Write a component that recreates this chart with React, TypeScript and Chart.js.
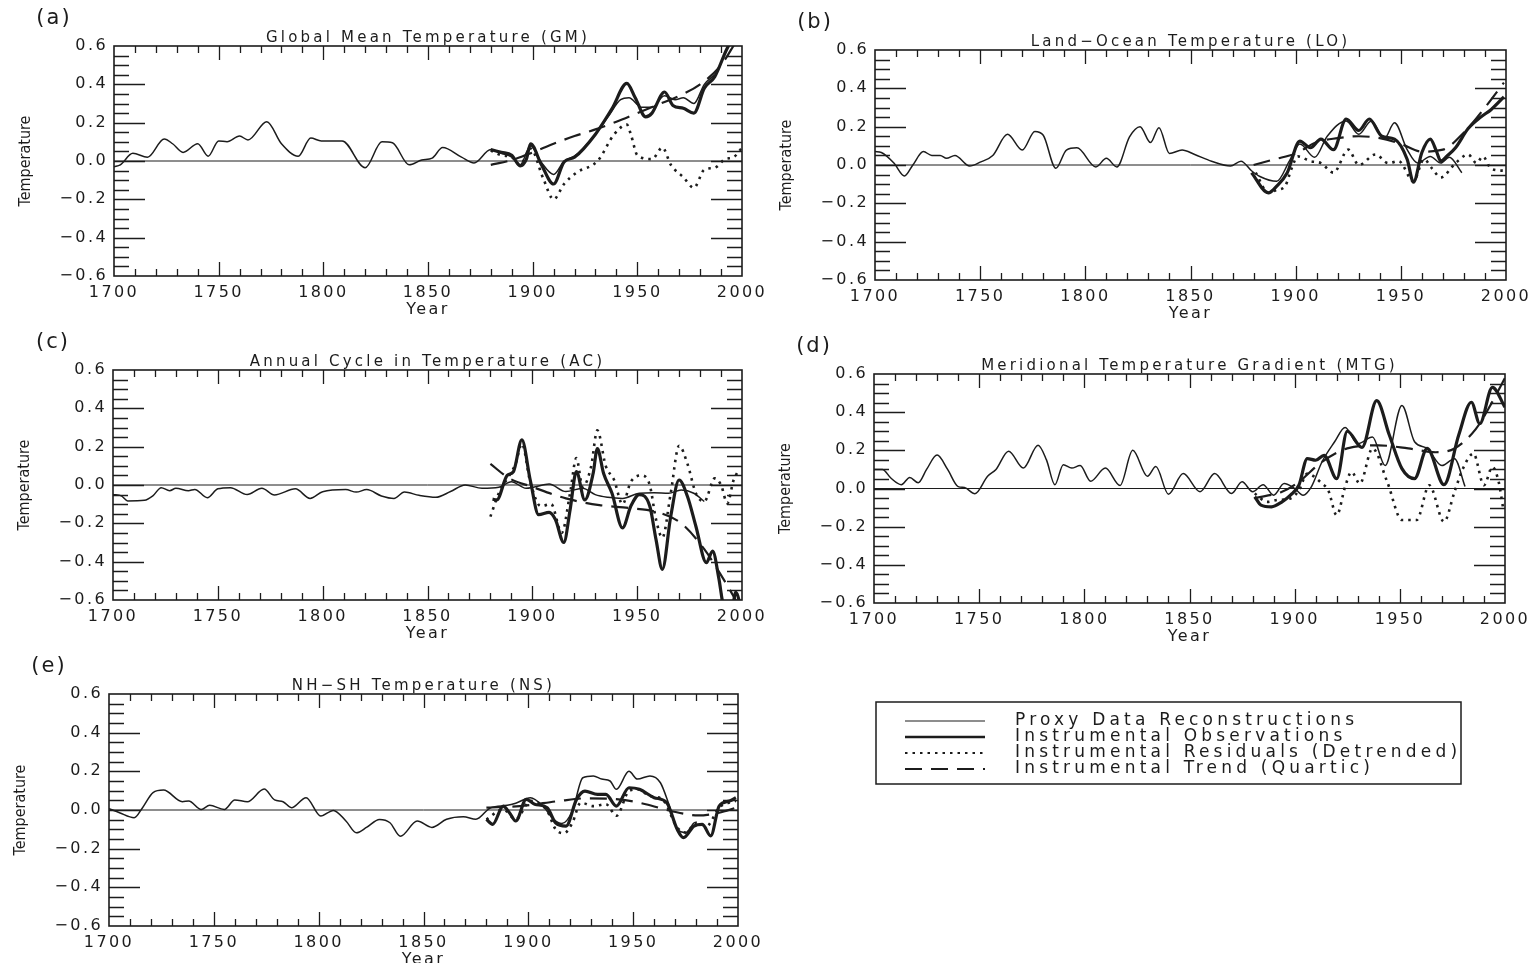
import React, { useEffect, useRef } from "react";
import { Chart, registerables } from "chart.js";
Chart.register(...registerables);

// ---------------- data ----------------
// (a) Global Mean
const gmProxyYears = [1700,1703,1709,1716,1724,1728,1733,1740,1745,1750,1754,1760,1764,1773,1780,1788,1794,1799,1809,1820,1828,1833,1841,1847,1852,1857,1866,1872,1880,1885,1890,1894,1899,1904,1910,1915,1920,1930,1936,1942,1946,1952,1957,1963,1968,1972,1977,1982,1987];
const gmProxyVals = [-0.03,-0.02,0.04,0.02,0.115,0.09,0.045,0.09,0.025,0.105,0.1,0.13,0.11,0.205,0.09,0.025,0.12,0.105,0.105,-0.035,0.1,0.095,-0.02,0.005,0.015,0.07,0.02,-0.01,0.06,0.04,0.02,-0.02,0.08,-0.005,-0.07,0.0,0.025,0.14,0.23,0.32,0.33,0.28,0.28,0.34,0.32,0.33,0.3,0.4,0.45];
const gmObsYears = [1880,1885,1890,1894,1897,1899,1904,1910,1915,1920,1930,1938,1945,1949,1954,1957,1963,1967,1972,1977,1982,1987,1993,1997];
const gmObsVals = [0.06,0.045,0.03,-0.025,0.01,0.09,-0.015,-0.12,-0.005,0.02,0.14,0.275,0.405,0.33,0.23,0.25,0.36,0.29,0.275,0.25,0.38,0.44,0.59,0.66];
const gmTrendYears = [1880,1890,1900,1910,1920,1930,1940,1950,1960,1970,1980,1990,1997];
const gmTrendVals = [-0.02,0.005,0.045,0.09,0.13,0.165,0.205,0.25,0.295,0.34,0.4,0.5,0.62];
const gmResidYears = [1880,1885,1890,1894,1899,1905,1910,1915,1921,1931,1939,1945,1947,1950,1957,1962,1966,1972,1977,1982,1987,1992,1996,2000];
const gmResidVals = [0.055,0.03,0.02,-0.02,0.065,-0.09,-0.2,-0.12,-0.06,0.0,0.14,0.19,0.135,0.03,0.01,0.07,-0.02,-0.085,-0.14,-0.045,-0.035,0.01,0.02,0.07];

// (b) Land-Ocean
const loProxyYears = [1700,1703,1709,1714,1718,1723,1727,1731,1734,1738,1745,1750,1756,1763,1770,1776,1780,1786,1791,1796,1805,1810,1815,1821,1826,1831,1835,1840,1846,1852,1860,1869,1874,1879,1883,1891,1897,1902,1909,1915,1924,1930,1936,1942,1947,1953,1958,1964,1969,1973,1979];
const loProxyVals = [0.07,0.065,0.01,-0.057,0.0,0.07,0.05,0.05,0.035,0.05,-0.005,0.015,0.05,0.16,0.078,0.175,0.155,-0.017,0.078,0.09,-0.01,0.035,-0.01,0.147,0.2,0.117,0.195,0.06,0.078,0.055,0.02,-0.005,0.02,-0.03,-0.06,-0.085,0.02,0.11,0.04,0.15,0.23,0.16,0.23,0.135,0.22,0.08,0.01,0.045,0.01,0.04,-0.04];
const loObsYears = [1879,1887,1891,1896,1902,1907,1912,1918,1924,1930,1935,1941,1947,1953,1956,1960,1964,1967,1969,1972,1976,1982,1988,1993,1999];
const loObsVals = [-0.04,-0.145,-0.11,-0.04,0.125,0.09,0.135,0.08,0.24,0.18,0.24,0.15,0.135,0.03,-0.09,0.065,0.135,0.07,0.02,0.047,0.09,0.19,0.25,0.29,0.355];
const loTrendYears = [1880,1890,1900,1910,1920,1930,1940,1950,1960,1970,1980,1990,1999];
const loTrendVals = [0.0,0.03,0.06,0.12,0.14,0.15,0.14,0.11,0.07,0.08,0.17,0.3,0.43];
const loResidYears = [1881,1887,1891,1895,1898,1901,1907,1912,1918,1925,1930,1938,1944,1949,1956,1961,1965,1969,1976,1982,1986,1989,1993,1999];
const loResidVals = [-0.04,-0.145,-0.13,-0.11,-0.02,0.045,0.02,0.01,-0.04,0.08,0.0,0.055,0.01,0.02,-0.085,0.03,-0.02,-0.065,0.01,0.055,0.01,0.045,-0.02,-0.03];

// (c) Annual Cycle
const acProxyYears = [1700,1704,1707,1715,1719,1723,1727,1730,1736,1739,1745,1750,1756,1764,1771,1777,1787,1794,1800,1811,1816,1821,1828,1834,1839,1846,1854,1861,1868,1876,1884,1890,1897,1901,1908,1916,1924,1930,1936,1943,1951,1958,1965,1971,1977,1982];
const acProxyVals = [-0.05,-0.057,-0.083,-0.08,-0.057,-0.014,-0.03,-0.017,-0.03,-0.023,-0.066,-0.02,-0.014,-0.05,-0.017,-0.052,-0.02,-0.07,-0.035,-0.024,-0.037,-0.024,-0.057,-0.07,-0.037,-0.054,-0.064,-0.034,0.0,-0.017,-0.012,0.017,-0.017,-0.01,0.005,-0.034,-0.017,-0.05,-0.064,-0.07,-0.043,-0.04,-0.043,-0.026,-0.043,-0.086];
const acObsYears = [1881,1883,1888,1891,1895,1899,1903,1908,1911,1915,1918,1921,1925,1929,1931,1934,1938,1943,1947,1951,1956,1959,1962,1966,1970,1974,1978,1983,1986,1989,1991,1995,1997,2000];
const acObsVals = [-0.074,-0.078,0.05,0.07,0.235,0.026,-0.155,-0.143,-0.18,-0.3,-0.13,0.07,-0.078,0.06,0.19,0.06,-0.043,-0.224,-0.11,-0.05,-0.11,-0.285,-0.44,-0.164,0.026,-0.06,-0.215,-0.405,-0.345,-0.49,-0.62,-0.66,-0.56,-0.66];
const acTrendYears = [1880,1889,1900,1916,1932,1946,1959,1971,1982,1990,1997,2000];
const acTrendVals = [0.11,0.035,-0.01,-0.07,-0.105,-0.12,-0.14,-0.2,-0.335,-0.47,-0.6,-0.66];
const acResidYears = [1880,1884,1889,1892,1895,1899,1904,1909,1914,1918,1921,1924,1928,1931,1935,1939,1943,1947,1952,1956,1959,1962,1966,1970,1974,1978,1982,1987,1990,1993,1996,1998];
const acResidVals = [-0.165,-0.043,0.05,0.11,0.215,0.017,-0.11,-0.1,-0.25,-0.043,0.14,-0.01,0.095,0.285,0.1,0.026,-0.1,0.017,0.05,0.0,-0.18,-0.275,-0.043,0.205,0.11,-0.043,-0.086,0.035,0.0,-0.095,0.026,0.07];

// (d) Meridional Gradient
const mtgProxyYears = [1700,1704,1708,1713,1717,1721,1725,1730,1735,1740,1743,1748,1754,1758,1764,1771,1778,1782,1786,1790,1794,1798,1803,1810,1817,1823,1830,1834,1840,1847,1855,1862,1870,1875,1880,1885,1890,1895,1900,1904,1908,1913,1919,1924,1930,1937,1943,1951,1957,1963,1970,1976,1981];
const mtgProxyVals = [0.1,0.1,0.055,0.02,0.058,0.03,0.1,0.175,0.1,0.01,0.005,-0.027,0.064,0.1,0.195,0.107,0.227,0.15,0.02,0.125,0.107,0.12,0.038,0.107,0.016,0.2,0.064,0.115,-0.03,0.078,-0.017,0.078,-0.026,0.035,-0.017,0.02,-0.035,0.026,0.0,-0.035,0.01,0.14,0.245,0.32,0.235,0.27,0.12,0.435,0.245,0.21,0.12,0.156,0.01];
const mtgObsYears = [1881,1884,1889,1894,1898,1902,1906,1910,1914,1920,1925,1932,1939,1945,1951,1957,1963,1971,1978,1984,1988,1994,2000];
const mtgObsVals = [-0.043,-0.087,-0.096,-0.07,-0.035,0.017,0.157,0.148,0.174,0.052,0.3,0.215,0.46,0.28,0.104,0.052,0.21,0.02,0.28,0.452,0.34,0.53,0.426];
const mtgTrendYears = [1881,1894,1902,1913,1925,1940,1954,1967,1976,1986,1993,2000];
const mtgTrendVals = [-0.05,-0.017,0.035,0.14,0.21,0.226,0.21,0.19,0.21,0.31,0.435,0.58];
const mtgResidYears = [1881,1887,1892,1898,1902,1906,1913,1916,1920,1924,1927,1931,1937,1944,1951,1958,1964,1971,1976,1980,1985,1990,1994,1997,1999];
const mtgResidVals = [-0.026,-0.07,-0.06,-0.052,-0.01,0.078,0.026,-0.01,-0.14,0.01,0.087,0.026,0.21,0.035,-0.165,-0.165,0.017,-0.174,-0.017,0.104,0.183,0.017,0.113,0.035,-0.096];

// (e) NH-SH
const nsProxyYears = [1700,1705,1712,1716,1721,1726,1735,1738,1744,1748,1755,1760,1766,1774,1779,1783,1787,1794,1801,1807,1813,1818,1823,1829,1834,1839,1847,1854,1861,1869,1875,1882,1890,1894,1901,1907,1912,1916,1921,1926,1931,1935,1939,1942,1948,1952,1958,1963,1967,1971,1975,1979];
const nsProxyVals = [0.007,-0.014,-0.04,0.012,0.09,0.103,0.043,0.047,0.003,0.024,0.003,0.052,0.043,0.108,0.052,0.043,0.012,0.064,-0.031,-0.002,-0.057,-0.118,-0.089,-0.049,-0.066,-0.136,-0.057,-0.09,-0.048,-0.035,-0.048,0.012,0.024,0.035,0.064,0.02,-0.048,-0.07,-0.005,0.167,0.176,0.16,0.15,0.107,0.2,0.16,0.176,0.141,0.03,-0.1,-0.117,-0.066];
const nsObsYears = [1880,1883,1888,1891,1894,1899,1903,1909,1913,1918,1923,1927,1933,1937,1942,1948,1953,1960,1966,1971,1974,1979,1983,1987,1991,1996,1999];
const nsObsVals = [-0.048,-0.074,0.02,-0.014,-0.057,0.055,0.03,0.012,-0.066,-0.083,0.055,0.098,0.081,0.081,0.02,0.115,0.107,0.064,0.038,-0.1,-0.143,-0.083,-0.074,-0.134,0.02,0.047,0.064];
const nsTrendYears = [1880,1896,1915,1927,1943,1956,1968,1981,1991,1999];
const nsTrendVals = [0.012,0.02,0.047,0.06,0.055,0.03,-0.005,-0.028,-0.014,0.012];
const nsResidYears = [1880,1888,1894,1901,1909,1913,1917,1921,1925,1931,1937,1942,1948,1952,1958,1964,1971,1975,1980,1985,1991,1999];
const nsResidVals = [-0.048,0.003,-0.048,0.047,-0.005,-0.1,-0.12,-0.066,0.038,0.02,0.03,-0.03,0.098,0.107,0.072,0.055,-0.09,-0.117,-0.066,-0.083,0.012,0.047];

const legendLabels = [
  "Proxy Data Reconstructions",
  "Instrumental Observations",
  "Instrumental Residuals (Detrended)",
  "Instrumental Trend (Quartic)",
];

const X_MIN = 1700, X_MAX = 2000, X_STEP = 50;
const Y_MIN = -0.6, Y_MAX = 0.6, Y_STEP = 0.2;

// ---------------- styling / layout ----------------
const INK = "#1c1c1c";
const FONT = "'DejaVu Sans', Verdana, sans-serif";
const NARROW = "'Liberation Sans Narrow', 'DejaVu Sans Condensed', 'Arial Narrow', sans-serif";
const SPACING = "2.4px";

const AX_W = 100;
const TOP_PAD = 45;
const X_H = 42;

const PANELS = [
  { id: "a", tag: "(a)", title: "Global Mean Temperature (GM)", box: { L: 114, T: 46, R: 742, B: 276 },
    proxy: [gmProxyYears, gmProxyVals], obs: [gmObsYears, gmObsVals], resid: [gmResidYears, gmResidVals], trend: [gmTrendYears, gmTrendVals] },
  { id: "b", tag: "(b)", title: "Land\u2212Ocean Temperature (LO)", box: { L: 875, T: 50, R: 1506, B: 280 },
    proxy: [loProxyYears, loProxyVals], obs: [loObsYears, loObsVals], resid: [loResidYears, loResidVals], trend: [loTrendYears, loTrendVals] },
  { id: "c", tag: "(c)", title: "Annual Cycle in Temperature (AC)", box: { L: 113, T: 370, R: 742, B: 600 },
    proxy: [acProxyYears, acProxyVals], obs: [acObsYears, acObsVals], resid: [acResidYears, acResidVals], trend: [acTrendYears, acTrendVals] },
  { id: "d", tag: "(d)", title: "Meridional Temperature Gradient (MTG)", box: { L: 874, T: 374, R: 1505, B: 603 },
    proxy: [mtgProxyYears, mtgProxyVals], obs: [mtgObsYears, mtgObsVals], resid: [mtgResidYears, mtgResidVals], trend: [mtgTrendYears, mtgTrendVals] },
  { id: "e", tag: "(e)", title: "NH\u2212SH Temperature (NS)", box: { L: 109, T: 694, R: 738, B: 926 }, legend: true,
    proxy: [nsProxyYears, nsProxyVals], obs: [nsObsYears, nsObsVals], resid: [nsResidYears, nsResidVals], trend: [nsTrendYears, nsTrendVals] },
];

const LEGEND_BOX = { x0: 876, y0: 702, x1: 1461, y1: 784 };

const STYLES = {
  proxy: { borderWidth: 1.5, borderDash: [] as number[] },
  obs: { borderWidth: 3.2, borderDash: [] as number[] },
  resid: { borderWidth: 2.6, borderDash: [2.5, 5] },
  trend: { borderWidth: 2.2, borderDash: [17, 9] },
};

function pts(xs: number[], ys: number[]) {
  return xs.map((x, i) => ({ x, y: ys[i] }));
}

function makeDecor(p: any, offX: number, offY: number) {
  return {
    id: "decor",
    beforeDraw(chart: any) {
      chart.ctx.letterSpacing = SPACING;
    },
    beforeDatasetsDraw(chart: any) {
      const { ctx, chartArea: a, scales } = chart;
      const y0 = scales.y.getPixelForValue(0);
      ctx.save();
      ctx.strokeStyle = INK;
      ctx.lineWidth = 1;
      ctx.beginPath();
      ctx.moveTo(a.left, y0);
      ctx.lineTo(a.right, y0);
      ctx.stroke();
      ctx.restore();
    },
    afterDatasetsDraw(chart: any) {
      const { ctx, chartArea: a, scales } = chart;
      ctx.save();
      ctx.strokeStyle = INK;
      ctx.fillStyle = INK;
      // y ticks (both sides, inward)
      ctx.lineWidth = 1.3;
      ctx.beginPath();
      for (let k = -11; k <= 11; k++) {
        const py = Math.round(scales.y.getPixelForValue(k * 0.05)) + 0.5;
        const len = k % 4 === 0 ? 31 : 15;
        ctx.moveTo(a.left, py);
        ctx.lineTo(a.left + len, py);
        ctx.moveTo(a.right, py);
        ctx.lineTo(a.right - len, py);
      }
      // x ticks (top & bottom, inward)
      for (let yr = X_MIN + 10; yr < X_MAX; yr += 10) {
        const px = Math.round(scales.x.getPixelForValue(yr)) + 0.5;
        const len = yr % 50 === 0 ? 14 : 7;
        ctx.moveTo(px, a.bottom);
        ctx.lineTo(px, a.bottom - len);
        ctx.moveTo(px, a.top);
        ctx.lineTo(px, a.top + len);
      }
      ctx.stroke();
      // frame
      ctx.lineWidth = 1.6;
      ctx.strokeRect(a.left, a.top, a.right - a.left, a.bottom - a.top);

      // panel title
      ctx.letterSpacing = "3.2px";
      ctx.font = `15px ${FONT}`;
      ctx.textAlign = "center";
      ctx.textBaseline = "middle";
      ctx.fillText(p.title, (a.left + a.right) / 2, a.top - 8);
      // panel tag
      ctx.letterSpacing = "2px";
      ctx.font = `21px ${FONT}`;
      ctx.fillText(p.tag, a.left - 60, a.top - 27);
      // y axis title
      ctx.letterSpacing = "0px";
      ctx.font = `16px ${NARROW}`;
      ctx.save();
      ctx.translate(a.left - 88, (a.top + a.bottom) / 2);
      ctx.rotate(-Math.PI / 2);
      ctx.fillText("Temperature", 0, 0);
      ctx.restore();

      if (p.legend) {
        const bx0 = LEGEND_BOX.x0 - offX, by0 = LEGEND_BOX.y0 - offY;
        const bx1 = LEGEND_BOX.x1 - offX, by1 = LEGEND_BOX.y1 - offY;
        ctx.lineWidth = 1.5;
        ctx.strokeRect(bx0, by0, bx1 - bx0, by1 - by0);
        const keys = ["proxy", "obs", "resid", "trend"] as const;
        ctx.font = `17px ${FONT}`;
        ctx.letterSpacing = "4.2px";
        ctx.textAlign = "left";
        keys.forEach((k, i) => {
          const yy = by0 + 19 + i * 16;
          const st = (STYLES as any)[k];
          ctx.save();
          ctx.lineWidth = st.borderWidth * 0.8;
          ctx.setLineDash(st.borderDash);
          ctx.beginPath();
          ctx.moveTo(bx0 + 29, yy);
          ctx.lineTo(bx0 + 109, yy);
          ctx.stroke();
          ctx.restore();
          ctx.fillText(legendLabels[i], bx0 + 139, yy);
        });
      }
      ctx.restore();
      ctx.letterSpacing = SPACING;
    },
  };
}

function PanelChart({ p }: { p: any }) {
  const ref = useRef<HTMLCanvasElement>(null);
  const rightPad = p.legend ? 1530 - p.box.R : 40;
  const left = p.box.L - AX_W;
  const top = p.box.T - TOP_PAD;
  const width = p.box.R - left + rightPad;
  const height = p.box.B - top + X_H;

  useEffect(() => {
    if (!ref.current) return;
    const mk = (key: string, src: number[][]) => ({
      label: key,
      data: pts(src[0], src[1]),
      borderColor: INK,
      backgroundColor: INK,
      borderWidth: (STYLES as any)[key].borderWidth,
      borderDash: (STYLES as any)[key].borderDash,
      pointRadius: 0,
      fill: false,
      cubicInterpolationMode: "monotone" as const,
      borderCapStyle: "butt" as const,
      borderJoinStyle: "round" as const,
    });
    const chart = new Chart(ref.current, {
      type: "line",
      data: {
        datasets: [mk("trend", p.trend), mk("resid", p.resid), mk("proxy", p.proxy), mk("obs", p.obs)],
      },
      options: {
        responsive: false,
        animation: false,
        devicePixelRatio: 1,
        layout: { padding: { left: 0, top: TOP_PAD, right: rightPad, bottom: 0 } },
        plugins: { legend: { display: false }, tooltip: { enabled: false }, title: { display: false } },
        scales: {
          x: {
            type: "linear",
            min: X_MIN,
            max: X_MAX,
            grid: { display: false, drawTicks: false, tickLength: 0 },
            border: { display: false },
            ticks: {
              stepSize: X_STEP,
              autoSkip: false,
              maxRotation: 0,
              padding: 7,
              color: INK,
              font: { family: FONT, size: 16 },
              callback: (v: any) => String(v),
            },
            title: { display: true, text: "Year", color: INK, font: { family: FONT, size: 16, lineHeight: 1 }, padding: { top: 0, bottom: 0 } },
            afterFit: (s: any) => { s.height = X_H; },
          },
          y: {
            type: "linear",
            min: Y_MIN,
            max: Y_MAX,
            grid: { display: false, drawTicks: false, tickLength: 0 },
            border: { display: false },
            ticks: {
              stepSize: Y_STEP,
              padding: 6,
              color: INK,
              font: { family: FONT, size: 16 },
              callback: (v: any) => {
                const n = Math.abs(v) < 1e-9 ? 0 : Number(v);
                const s = Math.abs(n).toFixed(1);
                return n < 0 ? "\u2212" + s : s;
              },
            },
            afterFit: (s: any) => { s.width = AX_W; },
          },
        },
      } as any,
      plugins: [makeDecor(p, left, top)],
    });
    return () => chart.destroy();
  }, []);

  return (
    <canvas
      ref={ref}
      width={width}
      height={height}
      style={{ position: "absolute", left, top, width, height }}
    />
  );
}

export default function App() {
  return (
    <div style={{ position: "absolute", left: 0, top: 0, width: 1535, height: 963, background: "#ffffff", overflow: "hidden" }}>
      {PANELS.map((p) => (
        <PanelChart key={p.id} p={p} />
      ))}
    </div>
  );
}
